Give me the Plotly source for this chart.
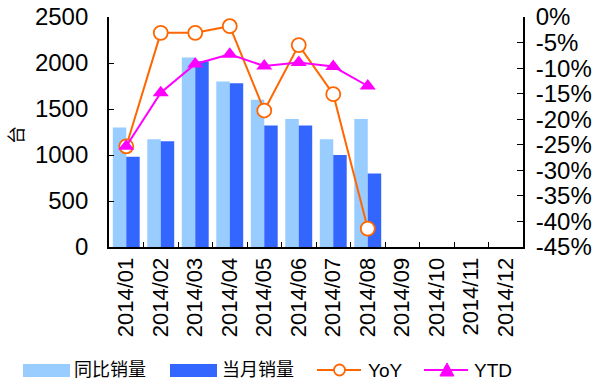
import plotly.graph_objects as go

months = ["2014/01", "2014/02", "2014/03", "2014/04", "2014/05", "2014/06",
          "2014/07", "2014/08", "2014/09", "2014/10", "2014/11", "2014/12"]
prev_year_sales = [1300, 1170, 2060, 1800, 1600, 1390, 1170, 1390, None, None, None, None]
month_sales = [980, 1150, 2020, 1780, 1320, 1320, 1000, 800, None, None, None, None]
yoy = [-0.253, -0.031, -0.031, -0.018, -0.183, -0.055, -0.151, -0.414, None, None, None, None]
ytd = [-0.253, -0.148, -0.092, -0.073, -0.096, -0.089, -0.097, -0.135, None, None, None, None]

left_ticks = [0, 500, 1000, 1500, 2000, 2500]
right_tickvals = [0, -0.05, -0.10, -0.15, -0.20, -0.25, -0.30, -0.35, -0.40, -0.45]
right_ticktext = ["0%", "-5%", "-10%", "-15%", "-20%", "-25%", "-30%", "-35%", "-40%", "-45%"]

FONT = "Liberation Sans, Arial, Noto Sans CJK SC, sans-serif"
LIGHT, DARK, ORANGE, MAGENTA = "#99CCFF", "#3366FF", "#FF6600", "#FF00FF"

W, H = 603, 387
ML, MR, MT, MB = 109, 80, 17, 140
PW, PH = W - ML - MR, H - MT - MB


def px(xp):
    return (xp - ML) / PW


def py(yp):
    return (H - MB - yp) / PH


fig = go.Figure()
fig.add_trace(go.Bar(x=months, y=prev_year_sales, name="同比销量",
                     marker=dict(color=LIGHT, line=dict(width=0))))
fig.add_trace(go.Bar(x=months, y=month_sales, name="当月销量",
                     marker=dict(color=DARK, line=dict(width=0))))
fig.add_trace(go.Scatter(x=months, y=yoy, name="YoY", yaxis="y2", mode="lines+markers",
                         line=dict(color=ORANGE, width=2),
                         marker=dict(symbol="circle", size=14, color="white",
                                     line=dict(color=ORANGE, width=1.8))))
fig.add_trace(go.Scatter(x=months, y=ytd, name="YTD", yaxis="y2", mode="lines+markers",
                         line=dict(color=MAGENTA, width=2),
                         marker=dict(symbol="triangle-up", size=14, color=MAGENTA)))

# legend drawn below the axis labels
shapes, annotations = [], []
ly = 370
shapes.append(dict(type="rect", xref="paper", yref="paper", x0=px(23), x1=px(70),
                   y0=py(377), y1=py(364), fillcolor=LIGHT, line=dict(width=0)))
shapes.append(dict(type="rect", xref="paper", yref="paper", x0=px(170), x1=px(217),
                   y0=py(377), y1=py(364), fillcolor=DARK, line=dict(width=0)))
shapes.append(dict(type="line", xref="paper", yref="paper", x0=px(317), x1=px(361),
                   y0=py(ly), y1=py(ly), line=dict(color=ORANGE, width=2)))
shapes.append(dict(type="circle", xref="paper", yref="paper", x0=px(334), x1=px(345),
                   y0=py(375.5), y1=py(364.5), fillcolor="white",
                   line=dict(color=ORANGE, width=1.8)))
shapes.append(dict(type="line", xref="paper", yref="paper", x0=px(424), x1=px(468),
                   y0=py(ly), y1=py(ly), line=dict(color=MAGENTA, width=2)))
tri = "M {:.4f},{:.4f} L {:.4f},{:.4f} L {:.4f},{:.4f} Z".format(
    px(440), py(376), px(454), py(376), px(447), py(363))
shapes.append(dict(type="path", xref="paper", yref="paper", path=tri,
                   fillcolor=MAGENTA, line=dict(color=MAGENTA, width=1)))

for label, x0 in [("同比销量", 72), ("当月销量", 220), ("YoY", 366), ("YTD", 472)]:
    annotations.append(dict(text=label, xref="paper", yref="paper", x=px(x0), y=py(ly),
                            xanchor="left", yanchor="middle", showarrow=False,
                            font=dict(size=19 if label.isascii() else 18)))

# unit label for the left axis
annotations.append(dict(text="台", xref="paper", yref="paper", x=px(17), y=py(135),
                        xanchor="center", yanchor="middle", showarrow=False,
                        textangle=-90, font=dict(size=18)))

fig.update_layout(
    width=W, height=H,
    margin=dict(l=ML, r=MR, t=MT, b=MB, autoexpand=False),
    paper_bgcolor="white", plot_bgcolor="white",
    font=dict(family=FONT, size=19, color="black"),
    barmode="group", bargap=0.22, bargroupgap=0,
    showlegend=False,
    shapes=shapes, annotations=annotations,
    xaxis=dict(type="category", categoryarray=months, range=[-0.5, 11.5],
               tickangle=-90, automargin=False,
               showline=True, linecolor="black", linewidth=1.8,
               ticks="inside", ticklen=5, tickcolor="black", tickson="boundaries",
               tickfont=dict(size=22), showgrid=False, mirror=False),
    yaxis=dict(range=[0, 2500], tickvals=left_ticks, showline=True, linecolor="black",
               linewidth=1.8, ticks="inside", ticklen=5, tickcolor="black",
               ticklabelstandoff=14,
               showgrid=False, zeroline=False, tickfont=dict(size=24), automargin=False),
    yaxis2=dict(range=[-0.45, 0], overlaying="y", side="right", tickvals=right_tickvals,
                ticktext=right_ticktext, showline=True, linecolor="black", linewidth=1.8,
                ticks="inside", ticklen=6, tickcolor="black", showgrid=False,
                ticklabelstandoff=6,
                zeroline=False, tickfont=dict(size=24), automargin=False),
)

fig.write_html("out.html")
